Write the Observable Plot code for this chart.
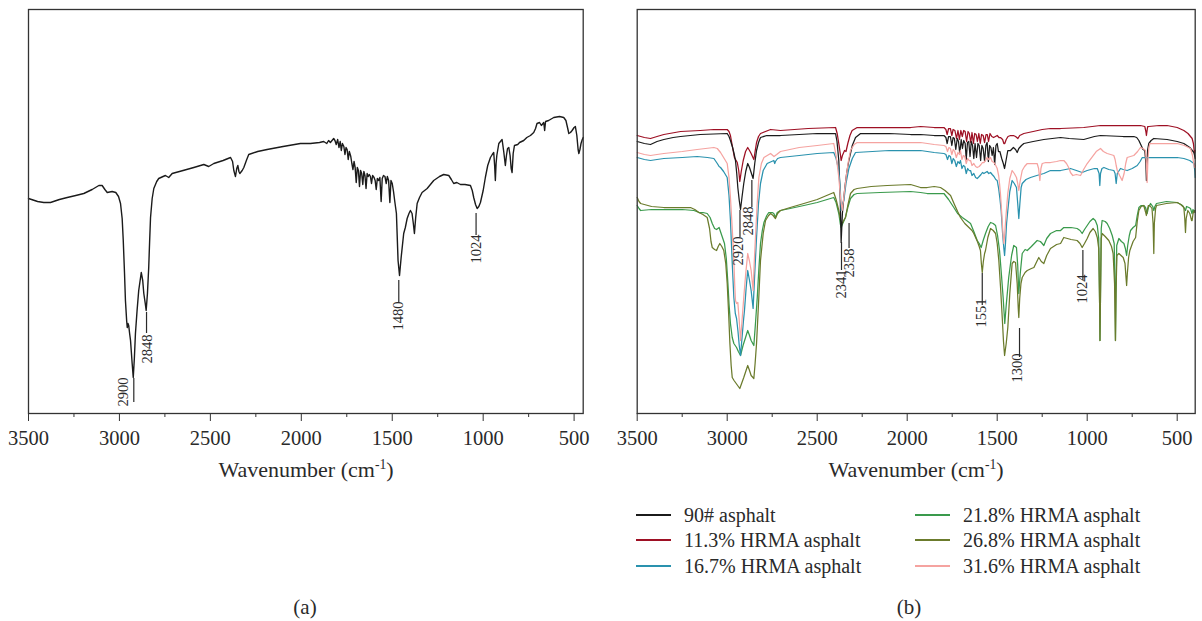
<!DOCTYPE html>
<html><head><meta charset="utf-8">
<script src="https://cdn.jsdelivr.net/npm/d3@7"></script>
<script src="https://cdn.jsdelivr.net/npm/@observablehq/plot@0.6"></script>
<style>
body{margin:0;background:#fff;}
#wrap{position:relative;width:1202px;height:621px;overflow:hidden;font-family:"Liberation Serif","Times New Roman",serif;color:#2a2a2a;background:#fff;}
.panel{position:absolute;top:0;}
.xt{position:absolute;top:457px;font-size:22px;line-height:26px;transform:translateX(-50%);white-space:nowrap;}
.xt sup{font-size:0.62em;line-height:0;vertical-align:0.62em;}
.cap{position:absolute;top:595px;font-size:21px;line-height:24px;transform:translateX(-50%);}
.lg{position:absolute;font-size:20px;line-height:24px;white-space:nowrap;}
.lgl{position:absolute;height:1.6px;width:35px;}
</style></head>
<body><div id="wrap">
<div id="pa" class="panel" style="left:0px"></div>
<div id="pb" class="panel" style="left:600px"></div>
<div class="xt" style="left:306px">Wavenumber (cm<sup>-1</sup>)</div>
<div class="xt" style="left:916px">Wavenumber (cm<sup>-1</sup>)</div>
<div class="cap" style="left:305px">(a)</div>
<div class="cap" style="left:909px">(b)</div>
<div id="legend"></div>
</div>
<script>
// ---- axis ticks ----
const majorTicks = [3500, 3000, 2500, 2000, 1500, 1000, 500];
const minorTicks = [3250, 2750, 2250, 1750, 1250, 750];

// ---- panel (a): 90# asphalt, [wavenumber, transmittance a.u.] ----
const specA = [[3500,215],[3450,212],[3416,211],[3379,211],[3330,214],[3287,216],[3240,218],[3196,220],[3150,224],[3113,228],[3095,228],[3080,224],[3067,221],[3040,222],[3020,221],[3005,217],[2994,210],[2985,195],[2979,173],[2972,140],[2967,113],[2960,92],[2957,86],[2953,90],[2949,88],[2944,80],[2939,73],[2930,50],[2924,36],[2918,55],[2912,80],[2903,103],[2894,123],[2880,141],[2872,133],[2866,120],[2858,110],[2853,103],[2846,120],[2839,146],[2834,172],[2829,196],[2820,215],[2811,225],[2795,232],[2784,235],[2760,237],[2747,238],[2729,236],[2710,240],[2650,243],[2591,246],[2536,249],[2509,247],[2481,250],[2430,253],[2389,256],[2378,252],[2371,243],[2362,237],[2355,245],[2349,248],[2343,242],[2338,240],[2325,243],[2316,246],[2300,254],[2289,259],[2240,262],[2188,264],[2100,267],[2005,270],[1950,270],[1900,271],[1877,272],[1860,270],[1850,273],[1840,271],[1822,275],[1815,273],[1808,269],[1800,274],[1793,266],[1786,272],[1780,263],[1774,270],[1766,267],[1760,259],[1754,266],[1748,264],[1742,254],[1736,262],[1728,257],[1722,250],[1716,244],[1710,252],[1704,246],[1698,231],[1692,246],[1686,243],[1680,227],[1674,243],[1668,240],[1662,229],[1656,242],[1650,238],[1644,225],[1638,240],[1632,237],[1626,239],[1620,237],[1614,230],[1608,238],[1600,236],[1594,233],[1588,224],[1582,235],[1575,233],[1568,236],[1561,212],[1555,235],[1548,238],[1540,237],[1533,230],[1527,237],[1520,233],[1513,211],[1507,233],[1500,230],[1493,222],[1486,212],[1477,200],[1468,153],[1460,138],[1451,156],[1437,180],[1428,186],[1418,195],[1408,200],[1400,203],[1391,200],[1384,190],[1378,180],[1371,196],[1363,210],[1350,216],[1336,221],[1308,225],[1290,229],[1272,233],[1240,237],[1217,239],[1189,238],[1175,234],[1162,230],[1145,231],[1125,229],[1100,229],[1070,228],[1060,223],[1052,216],[1042,209],[1033,205],[1024,207],[1015,211],[1000,223],[988,236],[975,248],[960,256],[950,259],[942,261],[937,248],[933,233],[929,250],[925,258],[914,270],[905,272],[896,274],[887,262],[878,248],[872,258],[866,265],[859,266],[852,258],[846,245],[841,241],[835,260],[828,268],[810,269],[800,271],[777,273],[760,276],[740,278],[722,281],[712,285],[704,290],[690,291],[680,288],[667,291],[662,283],[657,292],[640,293],[612,296],[580,297],[557,296],[545,293],[535,285],[529,280],[520,281],[511,283],[500,286],[493,287],[485,278],[478,264],[474,260],[468,264],[462,270],[455,274],[450,276]];

// ---- panel (b) series ----
const seriesNames = ["90# asphalt", "11.3% HRMA asphalt", "16.7% HRMA asphalt", "21.8% HRMA asphalt", "26.8% HRMA asphalt", "31.6% HRMA asphalt"];
const seriesColors = ["#1b1b1b", "#9e1024", "#2a92ae", "#3a9a4c", "#6b7b2c", "#f5a3a0"];

const s90 = [[3500,272],[3460,270],[3426,269],[3390,272],[3352,274],[3300,276],[3259,277],[3150,279],[3000,280],[2990,277],[2982,273],[2970,266],[2962,260],[2954,253],[2947,240],[2941,226],[2933,213],[2926,204],[2918,216],[2908,230],[2897,242],[2886,250],[2876,246],[2867,241],[2856,235],[2847,250],[2837,263],[2826,271],[2815,276],[2780,278],[2704,278],[2600,279],[2500,280],[2398,280],[2390,272],[2380,253],[2372,215],[2367,171],[2360,200],[2352,216],[2345,228],[2335,242],[2324,253],[2305,268],[2287,276],[2259,280],[2100,280],[1981,279],[1926,279],[1850,278],[1796,278],[1785,276],[1778,270],[1770,277],[1760,277],[1752,268],[1745,276],[1738,275],[1730,264],[1722,275],[1715,272],[1708,260],[1700,274],[1693,265],[1686,273],[1678,270],[1672,254],[1665,271],[1658,272],[1651,257],[1644,272],[1637,268],[1630,255],[1623,270],[1615,256],[1607,270],[1600,268],[1592,253],[1585,268],[1578,265],[1570,252],[1563,268],[1556,271],[1549,252],[1542,268],[1535,266],[1528,258],[1521,266],[1514,249],[1507,268],[1500,270],[1493,262],[1485,262],[1475,255],[1466,250],[1459,245],[1452,252],[1441,263],[1426,263],[1410,266],[1398,264],[1389,261],[1380,265],[1365,268],[1352,270],[1300,272],[1241,274],[1148,276],[1100,275],[1019,274],[960,277],[926,278],[800,277],[741,277],[725,276],[713,273],[700,268],[690,264],[680,263],[674,250],[671,233],[668,250],[664,264],[658,270],[645,273],[630,275],[556,274],[500,272],[463,270],[430,266],[407,261],[400,255]];

const s113 = [[3500,278],[3460,276],[3426,275],[3390,277],[3352,279],[3259,282],[3150,283],[3074,284],[3000,284],[2990,282],[2982,278],[2970,266],[2960,256],[2944,251],[2936,243],[2930,232],[2922,242],[2911,253],[2898,262],[2886,266],[2876,263],[2867,260],[2852,254],[2845,262],[2837,271],[2826,277],[2815,280],[2759,284],[2704,283],[2550,285],[2398,286],[2389,280],[2380,270],[2372,260],[2367,253],[2360,258],[2348,263],[2340,262],[2330,270],[2318,278],[2306,283],[2278,286],[2100,286],[1981,286],[1926,287],[1850,286],[1796,286],[1785,284],[1778,279],[1770,285],[1760,285],[1752,278],[1745,284],[1735,283],[1726,275],[1718,283],[1710,274],[1702,283],[1694,277],[1686,283],[1678,282],[1670,272],[1662,282],[1655,280],[1647,271],[1640,281],[1632,270],[1625,280],[1617,279],[1610,272],[1602,280],[1594,270],[1587,279],[1578,278],[1570,271],[1562,279],[1555,279],[1548,272],[1540,280],[1530,277],[1520,276],[1510,277],[1500,278],[1490,276],[1482,276],[1470,274],[1463,270],[1458,270],[1450,274],[1440,277],[1426,278],[1410,278],[1398,277],[1385,275],[1375,278],[1352,280],[1300,282],[1250,284],[1204,285],[1148,285],[1019,286],[926,288],[833,288],[704,288],[680,287],[674,282],[671,278],[668,282],[664,287],[658,287],[600,288],[556,288],[500,286],[463,283],[440,280],[417,275],[410,270],[404,260],[400,263]];

const s167 = [[3500,256],[3460,254],[3426,253],[3390,254],[3352,255],[3250,256],[3167,257],[3110,256],[3074,255],[3055,250],[3045,247],[3037,246],[3020,242],[3000,236],[2990,218],[2982,193],[2972,150],[2963,116],[2955,100],[2948,95],[2940,82],[2933,68],[2926,58],[2918,75],[2910,92],[2904,103],[2895,125],[2886,143],[2876,133],[2867,123],[2856,105],[2847,140],[2837,176],[2826,210],[2815,230],[2800,243],[2778,250],[2741,253],[2736,250],[2732,252],[2720,255],[2704,256],[2600,258],[2500,260],[2408,261],[2395,255],[2380,243],[2372,225],[2367,203],[2360,210],[2352,213],[2340,230],[2324,245],[2305,255],[2287,261],[2100,263],[1981,263],[1926,263],[1850,261],[1796,260],[1785,259],[1776,254],[1768,258],[1760,257],[1752,250],[1744,255],[1736,253],[1727,247],[1718,252],[1710,250],[1704,253],[1696,245],[1688,248],[1680,247],[1672,240],[1664,245],[1656,243],[1648,243],[1640,238],[1630,240],[1620,236],[1611,235],[1600,237],[1590,239],[1582,241],[1574,240],[1565,241],[1556,242],[1547,240],[1537,241],[1528,239],[1518,237],[1508,234],[1500,233],[1492,225],[1485,215],[1478,203],[1470,180],[1463,165],[1459,158],[1454,170],[1448,190],[1441,203],[1430,222],[1417,233],[1405,230],[1393,226],[1386,210],[1380,195],[1374,210],[1367,226],[1361,230],[1340,234],[1315,236],[1280,238],[1241,240],[1204,243],[1148,243],[1093,245],[1060,243],[1028,241],[1000,243],[960,245],[944,245],[934,240],[930,228],[926,240],[918,245],[907,246],[880,244],[852,243],[845,240],[839,230],[833,240],[815,245],[800,244],[778,243],[750,245],[722,248],[706,252],[694,256],[670,256],[648,256],[600,256],[556,256],[500,256],[463,255],[430,253],[407,250],[402,242],[400,236]];

const s218 = [[3500,208],[3490,205],[3481,203],[3420,204],[3352,204],[3250,204],[3185,203],[3170,202],[3157,201],[3135,201],[3111,200],[3095,196],[3083,190],[3070,185],[3059,184],[3045,186],[3030,178],[3015,170],[3005,155],[2996,130],[2990,110],[2982,90],[2972,76],[2963,70],[2948,66],[2938,62],[2926,58],[2912,68],[2898,76],[2886,83],[2876,78],[2867,73],[2852,68],[2843,90],[2833,116],[2824,145],[2815,170],[2805,183],[2796,191],[2780,198],[2769,201],[2750,201],[2741,200],[2732,196],[2722,201],[2704,203],[2650,205],[2574,208],[2500,211],[2408,216],[2395,211],[2380,200],[2372,190],[2367,186],[2358,190],[2343,196],[2330,206],[2315,215],[2295,219],[2278,220],[2150,221],[1981,222],[1926,221],[1889,220],[1840,220],[1796,220],[1770,214],[1741,206],[1720,200],[1694,196],[1670,193],[1648,190],[1630,182],[1611,173],[1600,170],[1589,166],[1578,173],[1565,180],[1550,187],[1537,191],[1522,190],[1509,188],[1498,178],[1487,163],[1477,140],[1467,116],[1458,90],[1450,108],[1436,136],[1420,158],[1408,168],[1393,166],[1386,148],[1380,120],[1372,140],[1361,160],[1345,164],[1333,163],[1310,167],[1278,173],[1260,172],[1250,170],[1241,168],[1225,175],[1204,180],[1170,183],[1148,183],[1130,186],[1090,186],[1056,185],[1040,183],[1028,180],[1015,184],[1000,188],[985,192],[967,195],[955,193],[944,188],[936,175],[931,110],[929,73],[926,120],[922,185],[917,193],[900,192],[889,190],[875,185],[861,178],[850,170],[845,120],[843,73],[840,120],[836,168],[824,175],[810,172],[796,170],[788,165],[781,158],[775,168],[766,178],[759,183],[745,186],[731,188],[722,198],[713,206],[700,208],[686,208],[676,206],[667,200],[660,206],[648,210],[636,207],[630,203],[624,207],[615,210],[560,212],[500,211],[470,208],[460,205],[454,203],[448,207],[435,206],[426,205],[418,200],[412,204],[407,201],[400,203]];

const s268 = [[3500,216],[3490,212],[3481,210],[3420,207],[3352,206],[3250,206],[3204,206],[3180,204],[3157,201],[3135,199],[3111,196],[3098,185],[3090,172],[3083,166],[3070,164],[3059,163],[3050,167],[3041,170],[3030,167],[3019,163],[3008,150],[3000,130],[2992,100],[2985,70],[2978,48],[2972,36],[2962,33],[2954,31],[2942,28],[2930,25],[2920,30],[2908,36],[2897,42],[2886,48],[2876,43],[2867,38],[2852,35],[2845,50],[2837,70],[2826,110],[2815,153],[2800,180],[2787,193],[2770,198],[2759,200],[2745,198],[2732,195],[2720,200],[2704,203],[2650,206],[2574,210],[2500,214],[2408,221],[2395,214],[2380,203],[2370,193],[2361,190],[2350,194],[2343,196],[2330,208],[2315,220],[2295,224],[2278,225],[2200,227],[2111,228],[1981,229],[1926,226],[1889,226],[1850,227],[1815,226],[1790,223],[1759,218],[1740,210],[1720,202],[1704,196],[1680,190],[1657,186],[1640,183],[1630,180],[1610,172],[1600,167],[1593,163],[1588,150],[1583,141],[1577,152],[1570,160],[1565,163],[1552,176],[1537,185],[1522,183],[1509,180],[1500,170],[1491,153],[1481,125],[1472,96],[1465,72],[1459,58],[1450,70],[1441,86],[1430,120],[1417,150],[1408,152],[1398,151],[1389,130],[1383,105],[1380,96],[1375,115],[1368,130],[1361,136],[1345,141],[1333,143],[1310,145],[1296,146],[1280,152],[1269,156],[1255,152],[1241,150],[1225,158],[1204,165],[1170,169],[1148,170],[1130,176],[1090,174],[1056,173],[1040,170],[1028,166],[1015,170],[1000,175],[985,181],[967,185],[955,182],[944,176],[936,165],[931,110],[929,73],[926,120],[922,175],[917,180],[900,177],[880,173],[865,167],[856,160],[848,130],[843,73],[840,120],[835,158],[824,160],[812,158],[800,156],[790,150],[784,135],[781,128],[777,140],[770,156],[763,163],[745,172],[731,176],[722,192],[713,203],[700,207],[686,208],[675,201],[671,198],[667,203],[660,208],[652,208],[640,205],[634,190],[630,160],[627,190],[620,205],[615,208],[560,210],[500,211],[480,209],[463,206],[458,195],[454,181],[450,195],[441,203],[430,200],[420,193],[417,193],[412,200],[404,203],[400,201]];

const s316 = [[3500,261],[3460,259],[3426,258],[3390,259],[3352,260],[3250,262],[3167,264],[3074,266],[3055,265],[3037,261],[3020,256],[3000,250],[2990,236],[2982,216],[2972,185],[2963,153],[2958,128],[2954,113],[2948,110],[2941,111],[2934,95],[2926,73],[2918,92],[2908,116],[2897,140],[2886,160],[2876,152],[2867,143],[2856,123],[2850,150],[2843,176],[2834,208],[2824,236],[2810,250],[2796,256],[2759,260],[2740,257],[2725,259],[2704,262],[2600,266],[2500,268],[2408,270],[2395,258],[2386,245],[2380,236],[2370,215],[2361,203],[2355,212],[2348,223],[2338,238],[2327,252],[2315,263],[2295,269],[2278,271],[2100,271],[1981,271],[1926,271],[1850,269],[1796,268],[1785,267],[1776,262],[1768,266],[1760,265],[1752,259],[1744,264],[1736,262],[1727,256],[1718,261],[1710,259],[1704,263],[1696,254],[1688,258],[1680,257],[1672,250],[1664,255],[1656,253],[1648,253],[1640,248],[1630,250],[1620,247],[1611,246],[1600,247],[1590,249],[1582,251],[1574,251],[1565,253],[1556,256],[1547,254],[1537,256],[1528,252],[1518,251],[1508,248],[1500,245],[1492,238],[1487,230],[1482,220],[1474,198],[1468,180],[1463,170],[1458,180],[1452,196],[1441,220],[1430,235],[1417,243],[1405,240],[1393,236],[1386,230],[1380,223],[1373,232],[1361,243],[1348,247],[1333,250],[1300,250],[1278,250],[1270,245],[1263,233],[1257,245],[1250,250],[1230,251],[1204,251],[1170,252],[1148,253],[1130,253],[1115,250],[1100,245],[1093,241],[1080,238],[1060,239],[1037,238],[1020,244],[1000,250],[975,256],[950,262],[926,265],[910,262],[889,260],[870,259],[852,258],[845,254],[839,248],[833,243],[820,238],[806,233],[795,240],[786,250],[778,256],[760,257],[741,258],[720,262],[704,266],[690,265],[676,263],[671,250],[667,231],[663,252],[658,265],[652,270],[630,270],[611,270],[560,270],[500,270],[460,268],[426,265],[415,258],[408,250],[404,246],[400,248]];

const seriesB = [s90, s113, s167, s218, s268, s316];
const drawOrder = [3, 4, 1, 0, 2, 5];

// ---- peak annotations ----
const annoA_label = ["2900", "2848", "1480", "1024"];
const annoA_lineWave = [2921, 2851, 1464, 1039];
const annoA_lineFrom = [35, 101, 133, 200];
const annoA_lineTo = [11, 80, 111, 178];
const annoA_textWave = [2976, 2846, 1464, 1039];
const annoA_textBase = [7, 50, 83, 150];

const annoB_label = ["2920", "2848", "2341", "2358", "1551", "1300", "1024"];
const annoB_lineWave = [2929, 2863, 2365, 2323, 1583, 1376, 1024];
const annoB_lineFrom = [203, 233, 171, 190, 140, 85, 163];
const annoB_lineTo = [176, 206, 143, 165, 108, 56, 133];
const annoB_textWave = [2937, 2884, 2368, 2323, 1589, 1386, 1027];
const annoB_textBase = [148, 178, 115, 136, 86, 31, 110];

function toRows(arr) { return arr.map(([w, t]) => ({w, t})); }
function annoRows(label, lw, lf, lt, tw, tb) {
  return label.map((s, i) => ({label: s, lw: lw[i], lf: lf[i], lt: lt[i], tw: tw[i], tb: tb[i]}));
}

function panel({width, ml, mr, domain, lines, annos, sw}) {
  return Plot.plot({
    width, height: 460,
    marginLeft: ml, marginRight: mr, marginTop: 9, marginBottom: 47,
    style: {fontFamily: '"Liberation Serif", serif', fontSize: "20.5px", color: "#2a2a2a", background: "transparent", overflow: "visible"},
    x: {domain, label: null},
    y: {domain: [0, 404], axis: null},
    marks: [
      ...lines.map(({data, color}) => Plot.line(toRows(data), {x: "w", y: "t", stroke: color, strokeWidth: sw})),
      Plot.ruleX(annos, {x: "lw", y1: "lf", y2: "lt", stroke: "#2a2a2a", strokeWidth: 1.2}),
      Plot.text(annos, {x: "tw", y: "tb", text: "label", rotate: -90, textAnchor: "start", lineAnchor: "middle", fontSize: 14.5, fill: "#2a2a2a"}),
      Plot.frame({stroke: "#333", strokeWidth: 1.3}),
      Plot.axisX({ticks: majorTicks, tickSize: 8, tickPadding: 9, tickFormat: d => String(d), label: null, stroke: "#333", fill: "#2a2a2a"}),
      Plot.axisX({ticks: minorTicks, tickSize: 4, tickFormat: () => "", label: null, stroke: "#333"})
    ]
  });
}

document.getElementById("pa").appendChild(panel({
  width: 600, ml: 28, mr: 17.3, domain: [3500, 450], sw: 1.4,
  lines: [{data: specA, color: "#1b1b1b"}],
  annos: annoRows(annoA_label, annoA_lineWave, annoA_lineFrom, annoA_lineTo, annoA_textWave, annoA_textBase)
}));

document.getElementById("pb").appendChild(panel({
  width: 602, ml: 36.7, mr: 7.3, domain: [3500, 400], sw: 1.25,
  lines: drawOrder.map(i => ({data: seriesB[i], color: seriesColors[i]})),
  annos: annoRows(annoB_label, annoB_lineWave, annoB_lineFrom, annoB_lineTo, annoB_textWave, annoB_textBase)
}));

// ---- legend (two columns, three rows) ----
const legend = document.getElementById("legend");
const colX = [636, 915];
const rowY = [515, 540, 566];
seriesNames.forEach((name, i) => {
  const c = Math.floor(i / 3), r = i % 3;
  const ln = document.createElement("div");
  ln.className = "lgl";
  ln.style.left = colX[c] + "px";
  ln.style.top = (rowY[r] - 0.8) + "px";
  ln.style.background = seriesColors[i];
  legend.appendChild(ln);
  const tx = document.createElement("div");
  tx.className = "lg";
  tx.style.left = (colX[c] + 48) + "px";
  tx.style.top = (rowY[r] - 12) + "px";
  tx.textContent = name;
  legend.appendChild(tx);
});
</script>
</body></html>
